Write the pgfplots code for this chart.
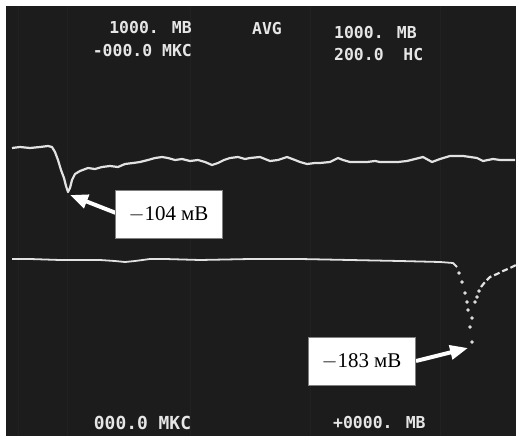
\documentclass[border=0pt]{standalone}
\usepackage{fontspec}
\usepackage{pgfplots}
\pgfplotsset{compat=1.18}
\usetikzlibrary{arrows.meta}
\setmainfont{Liberation Serif}
\newfontfamily\scr{DejaVu Sans Mono Bold}
\definecolor{scope}{HTML}{1C1C1C}
\definecolor{trace}{HTML}{E2E2E2}
\definecolor{stxt}{HTML}{E6E6E6}
\begin{document}
\begin{tikzpicture}
\begin{axis}[
  width=522bp, height=442bp, scale only axis,
  xmin=0, xmax=522, ymin=0, ymax=442, y dir=reverse,
  hide axis, clip=false,
]
\fill[white] (axis cs:0,0) rectangle (axis cs:522,442);
\fill[scope] (axis cs:6,6) rectangle (axis cs:516,436);
% faint grid
\draw[white,opacity=0.025,line width=1pt] (axis cs:18,6) -- (axis cs:18,436);
\draw[white,opacity=0.025,line width=1pt] (axis cs:67,6) -- (axis cs:67,436);
\draw[white,opacity=0.025,line width=1pt] (axis cs:190,6) -- (axis cs:190,436);
\draw[white,opacity=0.025,line width=1pt] (axis cs:310,6) -- (axis cs:310,436);
\draw[white,opacity=0.025,line width=1pt] (axis cs:440,6) -- (axis cs:440,436);
% upper trace
\addplot[trace, line width=2.2pt, line join=round] coordinates {
(12,148)(20,147)(30,148)(40,147)(48,146)(52,147)(55,152)(58,160)(61,170)(64,178)(66,186)(68,192)(70,188)(72,180)(75,174)(80,171)(88,168)(95,169)(102,167)(110,166)(118,167)(125,164)(133,163)(140,162)(148,160)(155,158)(162,157)(168,158)(175,160)(182,159)(190,161)(198,160)(205,162)(212,165)(218,163)(224,160)(230,158)(238,157)(245,159)(250,158)(260,157)(270,161)(278,160)(287,157)(295,160)(300,162)(307,164)(315,163)(320,163)(330,162)(334,160)(338,158)(343,160)(350,162)(358,162)(367,162)(375,161)(380,162)(390,162)(398,162)(407,161)(415,159)(423,157)(432,162)(440,159)(450,156)(458,156)(463,156)(470,157)(477,158)(483,161)(488,160)(493,159)(500,160)(510,160)(515,160)
};
% lower trace, flat part
\addplot[trace, line width=1.8pt, line join=round] coordinates {
(12,259)(30,259)(60,260)(100,260)(115,261)(125,262)(135,261)(150,259)(165,259)(200,260)(250,259)(300,259)(350,260)(400,261)(440,262)(453,263)(457,267)
};
% lower trace, dotted fall
\addplot[only marks, mark=*, mark size=1.5pt, trace] coordinates {
(459,273)(462,282)(465,293)(467,302)(468,310)(472,318)(470,327)(472,342)
};
% lower trace, recovery
\addplot[only marks, mark=*, mark size=1.5pt, trace] coordinates {
(475,302)(477,297)(479,291)
};
\addplot[trace, line width=2.2pt, dash pattern=on 6pt off 3pt] coordinates {
(481,287)(485,282)(490,277)(497,274)(503,271)(510,268)(516,265)
};
% annotations
\draw[white, line width=4pt, -{Triangle[length=18pt,width=14pt]}] (axis cs:116,213) -- (axis cs:70,195);
\node[fill=white, draw=gray, minimum width=107bp, minimum height=48bp, inner sep=0pt, font=\fontsize{21}{23}\selectfont] at (axis cs:168.5,214) {$-$104 мВ};
\draw[white, line width=4pt, -{Triangle[length=18pt,width=14pt]}] (axis cs:416,361) -- (axis cs:468,348);
\node[fill=white, draw=gray, minimum width=107bp, minimum height=48bp, inner sep=0pt, font=\fontsize{21}{23}\selectfont] at (axis cs:361.5,361) {$-$183 мВ};
% screen text
\begin{scope}[every node/.style={text=stxt, inner sep=0pt, font=\scr\fontsize{16.5}{16.5}\selectfont}]
\node[anchor=east] at (axis cs:192,28) {1000. МВ};
\node[anchor=east] at (axis cs:192,51) {-000.0 МКС};
\node[anchor=west] at (axis cs:252,29) {AVG};
\node[anchor=west] at (axis cs:334,33) {1000. МВ};
\node[anchor=west] at (axis cs:334,55) {200.0~~НС};
\node[font=\scr\fontsize{18}{18}\selectfont] at (axis cs:142.5,423) {000.0 МКС};
\node[anchor=west] at (axis cs:333,423) {+0000. МВ};
\end{scope}
\end{axis}
\end{tikzpicture}
\end{document}
